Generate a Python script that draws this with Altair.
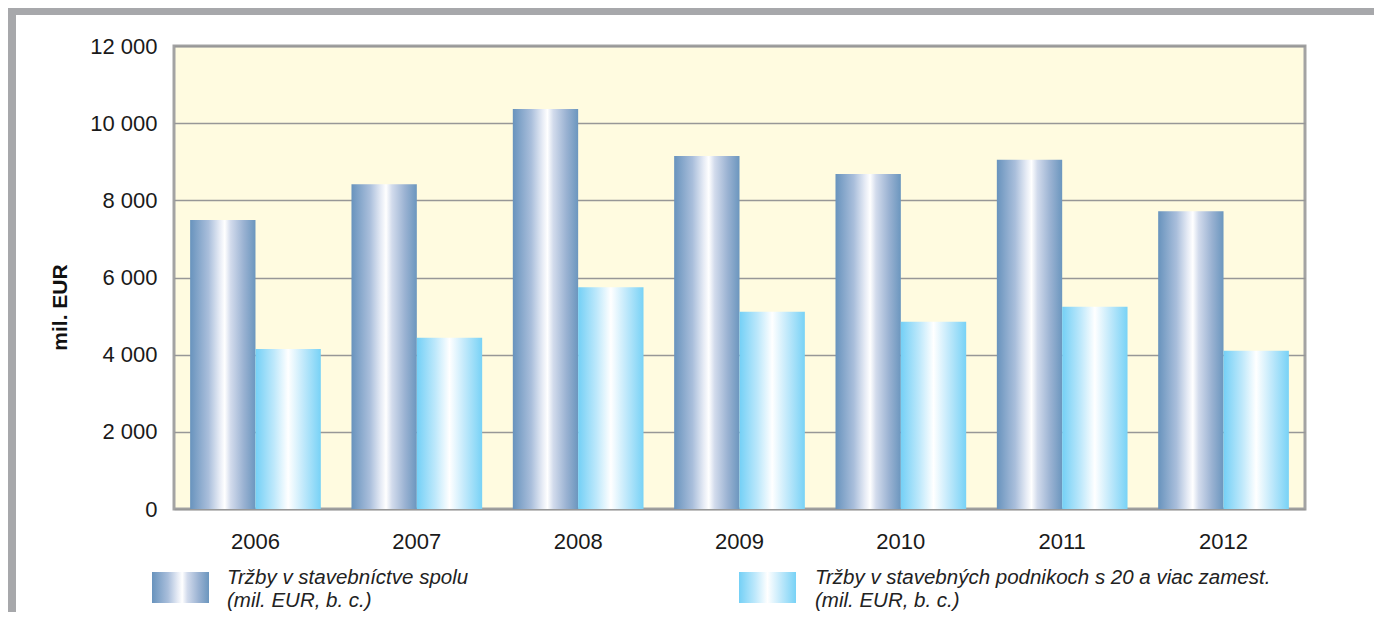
import altair as alt
import pandas as pd

# ---- data ----
years = ["2006", "2007", "2008", "2009", "2010", "2011", "2012"]
sales_total = [7490, 8420, 10370, 9150, 8680, 9050, 7720]
sales_large = [4150, 4440, 5750, 5110, 4850, 5240, 4100]
series_keys = ["total", "large"]
legend_line1 = ["Tržby v stavebníctve spolu",
                "Tržby v stavebných podnikoch s 20 a viac zamest."]
legend_line2 = ["(mil. EUR, b. c.)", "(mil. EUR, b. c.)"]
y_ticks = [0, 2000, 4000, 6000, 8000, 10000, 12000]
y_title = "mil. EUR"

rows = []
for i, yr in enumerate(years):
    rows.append({"year": yr, "series": "total", "value": sales_total[i]})
    rows.append({"year": yr, "series": "large", "value": sales_large[i]})
df = pd.DataFrame(rows)

W, H = 1131, 463
FONT = "Liberation Sans"

grad_dark = alt.LinearGradient(
    gradient="linear", x1=0, x2=1, y1=0, y2=0,
    stops=[alt.GradientStop(color="#6893bd", offset=0),
           alt.GradientStop(color="#a9bedb", offset=0.28),
           alt.GradientStop(color="#e6ebf5", offset=0.45),
           alt.GradientStop(color="#ffffff", offset=0.53),
           alt.GradientStop(color="#d2dbec", offset=0.62),
           alt.GradientStop(color="#9ab2d2", offset=0.82),
           alt.GradientStop(color="#6b96be", offset=1)])
grad_light = alt.LinearGradient(
    gradient="linear", x1=0, x2=1, y1=0, y2=0,
    stops=[alt.GradientStop(color="#74d0f6", offset=0),
           alt.GradientStop(color="#bde8fb", offset=0.28),
           alt.GradientStop(color="#ffffff", offset=0.5),
           alt.GradientStop(color="#c4eafb", offset=0.72),
           alt.GradientStop(color="#78d2f6", offset=1)])

x_enc = alt.X("year:N", title=None,
              scale=alt.Scale(paddingInner=0.19, paddingOuter=0.1),
              axis=alt.Axis(labelFont=FONT, labelFontSize=22, labelColor="#1a1a1a",
                            labelPadding=22, ticks=False, domain=False,
                            labelAngle=0, grid=False))
xo_enc = alt.XOffset("series:N",
                     scale=alt.Scale(domain=series_keys, paddingInner=0, paddingOuter=0))
y_enc = alt.Y("value:Q", title=y_title,
              scale=alt.Scale(domain=[0, 12000], nice=False),
              axis=alt.Axis(values=y_ticks, labelFont=FONT, labelFontSize=22,
                            labelColor="#1a1a1a", labelPadding=17, ticks=False,
                            domain=False, grid=True, gridColor="#979797", gridWidth=1.6,
                            labelExpr="replace(format(datum.value, ','), ',', ' ')",
                            titleFont=FONT, titleFontSize=21, titleFontWeight="bold",
                            titleColor="#111111", titleAngle=270, titleX=-114, titleY=261,
                            titleAlign="center", titleBaseline="middle"))

bars_total = alt.Chart(df).transform_filter(alt.datum.series == "total").mark_bar(
    fill=grad_dark).encode(x=x_enc, xOffset=xo_enc, y=y_enc)
bars_large = alt.Chart(df).transform_filter(alt.datum.series == "large").mark_bar(
    fill=grad_light).encode(x=x_enc, xOffset=xo_enc, y=y_enc)

one = pd.DataFrame({"k": [0]})
leg_df = pd.DataFrame({"l1": legend_line1, "l2": legend_line2, "key": series_keys})

# gray page frame (left strip and top strip)
frame_left = alt.Chart(one).mark_rect(color="#a7a8ab").encode(
    x=alt.value(-166), x2=alt.value(-158), y=alt.value(-38), y2=alt.value(570))
frame_top = alt.Chart(one).mark_rect(color="#a7a8ab").encode(
    x=alt.value(-166), x2=alt.value(1240), y=alt.value(-38), y2=alt.value(-31))

sw_dark = alt.Chart(one).mark_rect(fill=grad_dark).encode(
    x=alt.value(-22), x2=alt.value(35), y=alt.value(526), y2=alt.value(557))
sw_light = alt.Chart(one).mark_rect(fill=grad_light).encode(
    x=alt.value(565), x2=alt.value(622), y=alt.value(526), y2=alt.value(557))


def leg_text(idx, xpos):
    base = alt.Chart(leg_df).transform_filter(alt.datum.key == series_keys[idx])
    style = dict(align="left", baseline="alphabetic", font=FONT, fontSize=20.5,
                 fontStyle="italic", color="#222222")
    a = base.mark_text(**style).encode(x=alt.value(xpos), y=alt.value(538),
                                       text=alt.Text("l1:N"))
    b = base.mark_text(**style).encode(x=alt.value(xpos), y=alt.value(561),
                                       text=alt.Text("l2:N"))
    return a, b


t1a, t1b = leg_text(0, 53)
t2a, t2b = leg_text(1, 641)

chart = alt.layer(
    bars_total, bars_large, frame_left, frame_top,
    sw_dark, sw_light, t1a, t1b, t2a, t2b
).properties(
    width=W, height=H,
    autosize=alt.AutoSizeParams(type="none"),
    padding={"left": 166, "top": 38, "right": 69, "bottom": 103},
    background="white",
).configure_view(
    fill="#fffbe0", stroke="#a3a3a3", strokeWidth=3
)

chart.save("out.html", embed_options={"renderer": "svg", "actions": False})
